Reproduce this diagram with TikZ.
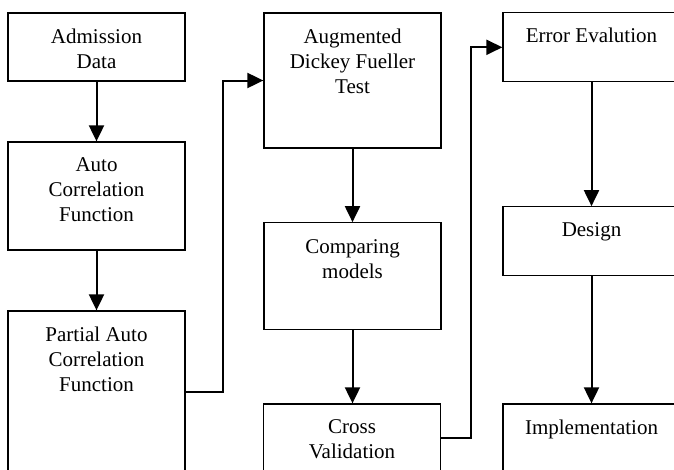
\documentclass[tikz,border=0pt]{standalone}
\usepackage{fontspec}
\setmainfont{Liberation Serif}
\usetikzlibrary{arrows.meta,positioning}

\begin{document}
\begin{tikzpicture}[x=1pt,y=-1pt,
  b/.style={draw=black,line width=1.3pt,minimum width=177pt,inner sep=0pt},
  t/.style={inner sep=0pt,align=center,font=\fontsize{21}{25}\selectfont},
  a/.style={-{Triangle[length=16pt,width=15pt]},line width=2pt}]
\useasboundingbox (0,0) rectangle (674,469);
\clip (0,0) rectangle (674,469);
% first column
\node[b,minimum height=68pt]  (adm)  at (96.5,47)  {};
\node[b,minimum height=108pt] (acf)  at (96.5,196) {};
\node[b,minimum height=162pt] (pacf) at (96.5,392) {};
% second column
\node[b,minimum height=135pt] (adf)  at (352.5,80.5)  {};
\node[b,minimum height=107pt] (cmp)  at (352.5,276.3) {};
\node[b,minimum height=68pt]  (cv)   at (352,438)     {};
% third column (runs off the right edge)
\node[b,minimum height=69pt]  (err)  at (591.5,47.3)  {};
\node[b,minimum height=69pt]  (des)  at (591.5,241.3) {};
\node[b,minimum height=68pt]  (imp)  at (591.5,438)   {};
% texts hang from the top edge of each box
\node[t,below=16pt of adm.north]  (admt)  {Admission\\Data};
\node[t,below=16pt of acf.north]  (acft)  {Auto\\Correlation\\Function};
\node[t,below=16pt of pacf.north] (pacft) {Partial Auto\\Correlation\\Function};
\node[t,below=16pt of adf.north]  (adft)  {Augmented\\Dickey Fueller\\Test};
\node[t,below=17pt of cmp.north]  (cmpt)  {Comparing\\models};
\node[t,below=16pt of cv.north]   (cvt)   {Cross\\Validation};
\node[t,below=16pt of err.north]  (errt)  {Error Evalution};
\node[t,below=16pt of des.north]  (dest)  {Design};
\node[t,below=16pt of imp.north]  (impt)  {Implementation};
\draw[a] (adm) -- (acf);
\draw[a] (acf) -- (pacf);
\draw[a] (pacf.east) -| ([xshift=-40pt]adf.west) -- (adf.west);
\draw[a] (adf) -- (cmp);
\draw[a] (cmp.south) -- (cv.north -| cmp.south);
\draw[a] (cv.east) -| ([xshift=-31pt]err.west) -- (err.west);
\draw[a] (err) -- (des);
\draw[a] (des) -- (imp);
\end{tikzpicture}
\end{document}
